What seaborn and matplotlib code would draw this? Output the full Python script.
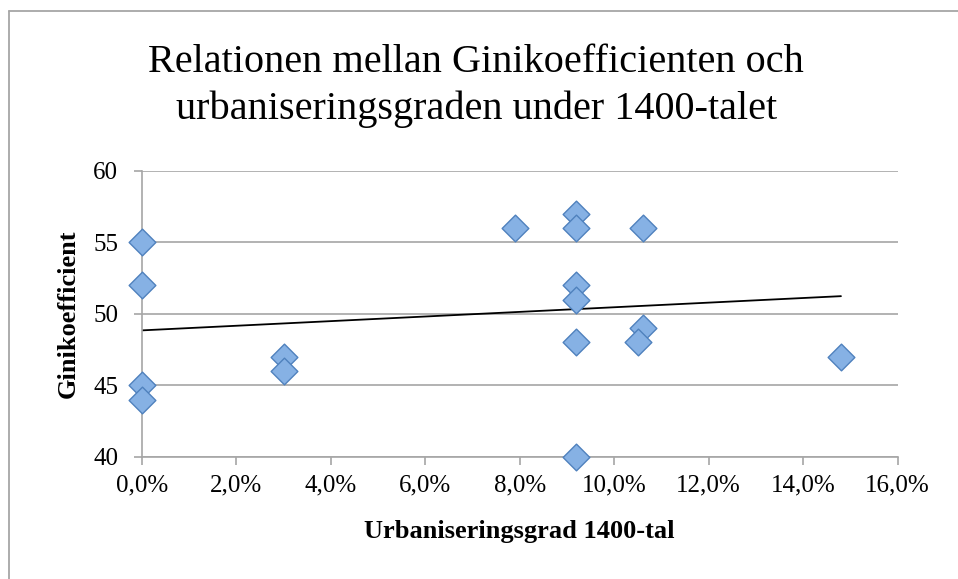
import numpy as np
import pandas as pd
import seaborn as sns
import matplotlib.pyplot as plt
from matplotlib.ticker import FuncFormatter, MultipleLocator
from matplotlib.lines import Line2D

# Urbaniseringsgrad (andel) och Ginikoefficient per observation
urban = [0.0, 0.0, 0.0, 0.0,
         0.030, 0.030,
         0.079,
         0.092, 0.092, 0.092, 0.092, 0.092, 0.092,
         0.106, 0.106, 0.105,
         0.148]
gini = [55, 52, 45, 44,
        47, 46,
        56,
        57, 56, 52, 51, 48, 40,
        56, 49, 48,
        47]

df = pd.DataFrame({"urban": urban, "gini": gini})

sns.set_theme(style="white")
plt.rcParams["font.family"] = ["Liberation Serif", "DejaVu Serif"]
plt.rcParams["text.color"] = "black"
plt.rcParams["axes.labelcolor"] = "black"

fig = plt.figure(figsize=(9.58, 5.79), dpi=100)
ax = fig.add_axes([0.148, 0.211, 0.789, 0.494])

# chart border (only left and top edge visible in the crop)
fig.add_artist(Line2D([0.0095, 0.0095], [0.0, 0.981], transform=fig.transFigure,
                      color="#a6a6a6", linewidth=1.3))
fig.add_artist(Line2D([0.0095, 1.0], [0.981, 0.981], transform=fig.transFigure,
                      color="#a6a6a6", linewidth=1.3))

ax.yaxis.grid(True, color="#a6a6a6", linewidth=1.2)
ax.set_axisbelow(True)

sns.regplot(data=df, x="urban", y="gini", ax=ax, scatter=False, ci=None,
            truncate=True, line_kws={"color": "black", "linewidth": 1.3})
sns.scatterplot(data=df, x="urban", y="gini", ax=ax, marker="D", s=185,
                color="#86b1e4", edgecolor="#4f81bd", linewidth=1.0, zorder=3,
                clip_on=False)

ax.set_xlim(0, 0.16)
ax.set_ylim(40, 60)
ax.xaxis.set_major_locator(MultipleLocator(0.02))
ax.yaxis.set_major_locator(MultipleLocator(5))
ax.xaxis.set_major_formatter(FuncFormatter(lambda v, p: f"{v*100:.1f}%".replace(".", ",")))

for s in ["top", "right"]:
    ax.spines[s].set_visible(False)
for s in ["left", "bottom"]:
    ax.spines[s].set_color("#a6a6a6")
    ax.spines[s].set_linewidth(1.2)

ax.tick_params(axis="both", which="major", labelsize=18, colors="#a6a6a6",
               labelcolor="black", length=6, width=1.2, direction="out")
ax.tick_params(axis="y", pad=11, left=True)
ax.tick_params(axis="x", pad=7, bottom=True)

ax.set_xlabel("Urbaniseringsgrad 1400-tal", fontsize=19, fontweight="bold", labelpad=17)
ax.set_ylabel("Ginikoefficient", fontsize=19, fontweight="bold", labelpad=10)

fig.text(0.497, 0.851, "Relationen mellan Ginikoefficienten och\nurbaniseringsgraden under 1400-talet",
         ha="center", va="center", fontsize=29, linespacing=1.32)

fig.savefig("out.png", dpi=100)
